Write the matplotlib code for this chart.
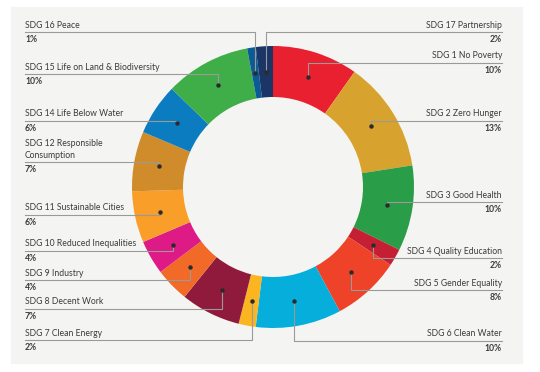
import numpy as np
import matplotlib
matplotlib.use("Agg")
from matplotlib import pyplot as plt
from matplotlib.patches import Rectangle

# slice data, clockwise from 12 o'clock
goals = ["SDG 1 No Poverty", "SDG 2 Zero Hunger", "SDG 3 Good Health",
         "SDG 4 Quality Education", "SDG 5 Gender Equality", "SDG 6 Clean Water",
         "SDG 7 Clean Energy", "SDG 8 Decent Work", "SDG 9 Industry",
         "SDG 10 Reduced Inequalities", "SDG 11 Sustainable Cities",
         "SDG 12 Responsible\nConsumption", "SDG 14 Life Below Water",
         "SDG 15 Life on Land & Biodiversity", "SDG 16 Peace", "SDG 17 Partnership"]
shares = [10, 13, 10, 2, 8, 10, 2, 7, 4, 4, 6, 7, 6, 10, 1, 2]
colours = ["#e8202f", "#d8a22e", "#2a9d48", "#c51f33", "#ee4229", "#05aedb",
           "#fbb521", "#8f1a3c", "#f26a27", "#dd1a85", "#f99e29", "#d08c2a",
           "#0a7cbf", "#3fae49", "#0b5c96", "#1b3566"]

# label layout (pixel rows of the underline) and side
label_y = [63, 121, 202, 258, 290, 341, 340, 309, 280, 251, 215, 162, 121, 74, 32, 32]
side = ["R", "R", "R", "R", "R", "R", "L", "L", "L", "L", "L", "L", "L", "L", "L", "R"]

plt.rcParams['font.family'] = ['Lato', 'DejaVu Sans']

W, H = 540, 372
fig = plt.figure(figsize=(W / 100, H / 100), dpi=100)
ax = fig.add_axes([0, 0, 1, 1])

def py(y):
    # pixel row -> data y
    return H - y

ax.add_patch(Rectangle((11, py(363)), 511, 356, color="#f4f5f2", zorder=0))

cx, cy, r_out, ring = 273, 187, 141, 51
ax.pie(shares, colors=colours, startangle=90, counterclock=False,
       center=(cx, py(cy)), radius=r_out, frame=True,
       wedgeprops=dict(width=ring, linewidth=0))
ax.set_xlim(0, W)
ax.set_ylim(0, H)
ax.set_aspect("equal")
ax.axis("off")

txt_col = "#3b3b3b"
line_col = "#9a9a9a"
fs = 6.2

total = sum(shares)
cum = np.cumsum([0] + shares)
r_mid = r_out - ring / 2
for i, name in enumerate(goals):
    ang = np.deg2rad(360 * (cum[i] + cum[i + 1]) / 2 / total)
    dx = cx + r_mid * np.sin(ang)
    dy = cy - r_mid * np.cos(ang)
    ly = label_y[i]
    if side[i] == "R":
        tx, ha = 502, "right"
    else:
        tx, ha = 25, "left"
    ax.plot([dx, dx, tx], [py(dy), py(ly), py(ly)], color=line_col, lw=0.8, zorder=3)
    ax.plot(dx, py(dy), "o", color="#2b2b2b", ms=2.2, zorder=4)
    ax.text(tx, py(ly - 2.5), name, ha=ha, va="bottom", fontsize=fs,
            color=txt_col, linespacing=1.35)
    ax.text(tx, py(ly + 3), f"{shares[i]}%", ha=ha, va="top", fontsize=fs,
            color=txt_col, fontweight="bold")

fig.savefig("out.png", dpi=100, facecolor="white")
